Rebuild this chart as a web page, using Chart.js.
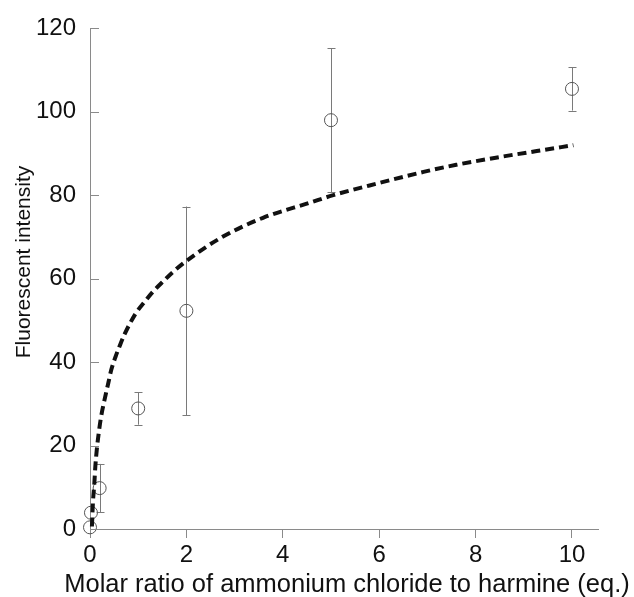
<!DOCTYPE html>
<html>
<head>
<meta charset="utf-8">
<script src="https://cdn.jsdelivr.net/npm/chart.js@4/dist/chart.umd.min.js"></script>
<style>
  html, body { margin: 0; padding: 0; background: #fff; }
  #wrap { width: 634px; height: 597px; position: relative; }
</style>
</head>
<body>
<div id="wrap"><canvas id="chart"></canvas></div>
<script>
// measured points (open circles) with +/- error
const ratioX = [0, 0.02, 0.2, 1, 2, 5, 10];
const intensityY = [0.4, 3.9, 9.8, 28.9, 52.3, 98, 105.5];
const intensityErr = [0, 0, 5.8, 3.9, 25, 17.3, 5.2];

// fitted curve (dashed)
const fitX = [0.04, 0.06, 0.09, 0.11, 0.14, 0.18, 0.23, 0.30, 0.38, 0.44, 0.53, 0.61, 0.71, 0.95, 1.13, 1.30, 1.54, 1.72, 1.97, 2.7, 3.59, 4.56, 5.01, 6.02, 6.92, 7.6, 8.57, 9.27, 10.03];
const fitY = [0.6, 6.2, 10.9, 14.9, 18.9, 22.9, 26.9, 30.9, 35, 38.1, 41.3, 43.7, 46.5, 51.7, 54.4, 56.8, 59.6, 61.6, 64, 69.7, 74.6, 78.2, 79.9, 83.0, 85.6, 87.3, 89.3, 90.6, 92];

const xTicks = [0, 2, 4, 6, 8, 10];
const yTicks = [0, 20, 40, 60, 80, 100, 120];

const xTitle = 'Molar ratio of ammonium chloride to harmine (eq.)';
const yTitle = 'Fluorescent intensity';

const FONT = '"Liberation Sans", Arial, sans-serif';
const axisColor = '#8a8a8a';

const extras = {
  id: 'extras',
  beforeDatasetsDraw(chart) {
    const { ctx, scales: { x, y } } = chart;
    ctx.save();
    ctx.strokeStyle = '#7a7a7a';
    ctx.lineWidth = 1;
    ratioX.forEach((v, i) => {
      const e = intensityErr[i];
      if (!e) return;
      const px = Math.round(x.getPixelForValue(v)) + 0.5;
      const top = y.getPixelForValue(intensityY[i] + e);
      const bot = y.getPixelForValue(intensityY[i] - e);
      ctx.beginPath();
      ctx.moveTo(px, top); ctx.lineTo(px, bot);
      ctx.moveTo(px - 4, Math.round(top) + 0.5); ctx.lineTo(px + 4, Math.round(top) + 0.5);
      ctx.moveTo(px - 4, Math.round(bot) + 0.5); ctx.lineTo(px + 4, Math.round(bot) + 0.5);
      ctx.stroke();
    });
    ctx.restore();
  },
  afterDraw(chart) {
    const { ctx, scales: { x, y } } = chart;
    ctx.save();
    // y ticks point inward
    ctx.strokeStyle = axisColor;
    ctx.lineWidth = 1;
    ctx.beginPath();
    yTicks.forEach(v => {
      const py = Math.round(y.getPixelForValue(v)) + 0.5;
      ctx.moveTo(x.left, py); ctx.lineTo(x.left + 9, py);
    });
    ctx.stroke();

    ctx.fillStyle = '#111';
    ctx.textAlign = 'center';
    ctx.textBaseline = 'middle';
    ctx.font = '25.5px ' + FONT;
    ctx.fillText(xTitle, 347, 585);

    ctx.translate(24, 262);
    ctx.rotate(-Math.PI / 2);
    ctx.font = '21px ' + FONT;
    ctx.fillText(yTitle, 0, 0);
    ctx.restore();
  }
};

new Chart(document.getElementById('chart'), {
  type: 'scatter',
  data: {
    datasets: [
      {
        label: 'fit',
        data: fitX.map((v, i) => ({ x: v, y: fitY[i] })),
        showLine: true,
        borderColor: '#111',
        borderWidth: 4,
        borderDash: [9, 5],
        pointRadius: 0,
        cubicInterpolationMode: 'monotone',
        clip: false,
      },
      {
        label: 'measured',
        data: ratioX.map((v, i) => ({ x: v, y: intensityY[i] })),
        pointStyle: 'circle',
        pointRadius: 6.5,
        borderWidth: 1,
        borderColor: '#555',
        backgroundColor: 'rgba(0,0,0,0)',
        clip: false,
      },
    ],
  },
  options: {
    responsive: true,
    maintainAspectRatio: false,
    animation: false,
    layout: { padding: { top: 28, right: 36, left: 0, bottom: 0 } },
    plugins: { legend: { display: false }, tooltip: { enabled: false } },
    scales: {
      x: {
        type: 'linear',
        min: 0,
        max: 10.54,
        afterBuildTicks: s => { s.ticks = xTicks.map(v => ({ value: v })); },
        afterFit: s => { s.height = 68; },
        grid: { drawOnChartArea: false, drawTicks: true, tickLength: 9, color: axisColor },
        border: { color: axisColor, width: 1 },
        ticks: { color: '#111', font: { family: FONT, size: 24 }, padding: 3, maxRotation: 0 },
      },
      y: {
        type: 'linear',
        min: 0,
        max: 120,
        afterBuildTicks: s => { s.ticks = yTicks.map(v => ({ value: v })); },
        afterFit: s => { s.width = 90; },
        grid: { drawOnChartArea: false, drawTicks: false, color: axisColor },
        border: { color: axisColor, width: 1 },
        ticks: { color: '#111', font: { family: FONT, size: 24 }, padding: 14 },
      },
    },
  },
  plugins: [extras],
});
</script>
</body>
</html>
